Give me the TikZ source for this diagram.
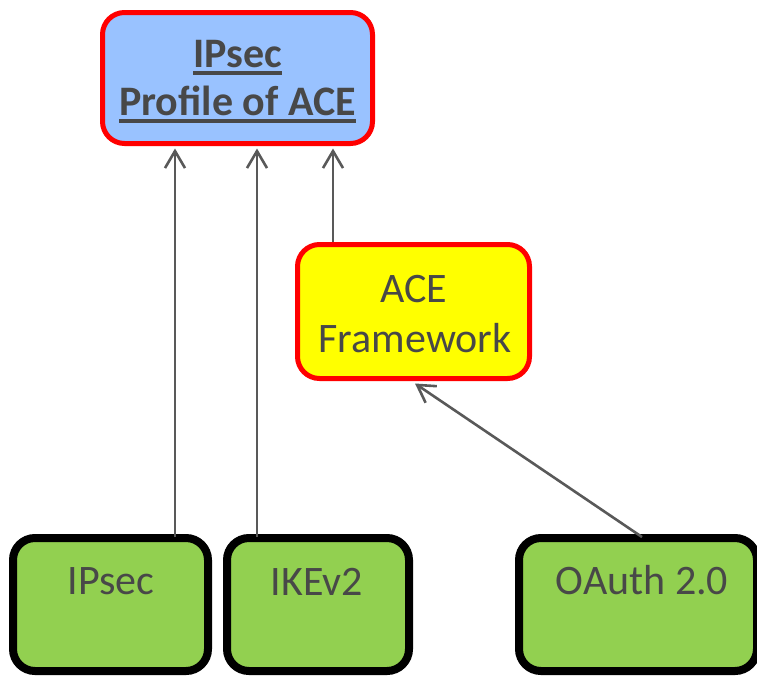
\documentclass[tikz,border=0pt]{standalone}
\usepackage{fontspec}
\setmainfont{Carlito}
\usetikzlibrary{arrows.meta}
\definecolor{txtgray}{RGB}{72,72,72}
\definecolor{arrgray}{RGB}{89,89,89}
\definecolor{boxblue}{RGB}{153,194,255}
\definecolor{boxyellow}{RGB}{255,255,0}
\definecolor{boxgreen}{RGB}{146,208,80}
\definecolor{boxred}{RGB}{255,0,0}
\newcommand{\ulx}[1]{\setbox0\hbox{#1}\rlap{\rule[-8pt]{\wd0}{4.5pt}}\box0}
\tikzset{
  redbox/.style={draw=boxred, line width=5pt, rounded corners=22pt, inner sep=0pt},
  greenbox/.style={draw=black, fill=boxgreen, line width=8pt, rounded corners=22pt, inner sep=0pt},
  txt/.style={text=txtgray, font=\fontsize{42}{48}\selectfont, inner sep=0pt, anchor=base},
  arr/.style={draw=arrgray, line width=2.6pt, -{Straight Barb[length=17pt,width=20pt,line width=2.6pt]}}
}
\begin{document}
\begin{tikzpicture}[x=1pt,y=-1pt]
\useasboundingbox (0,0) rectangle (757,675);
% boxes
\node[redbox, fill=boxblue, minimum width=270pt, minimum height=131pt] (top) at (237.5,78) {};
\node[redbox, fill=boxyellow, minimum width=232pt, minimum height=134pt] (ace) at (413.5,311.5) {};
\node[greenbox, minimum width=195pt, minimum height=133pt] (ipsec) at (110.5,604.5) {};
\node[greenbox, minimum width=182pt, minimum height=133pt] (ikev) at (318,604.5) {};
\node[greenbox, minimum width=238pt, minimum height=133pt] (oauth) at (638,604.5) {};
% texts
\node[txt, font=\fontsize{42}{48}\selectfont\bfseries] (t1) at (237.5,67) {\ulx{IPsec}};
\node[txt, font=\fontsize{42}{48}\selectfont\bfseries] (t2) at (237.5,115) {\ulx{Profile of ACE}};
\node[txt] (t3) at (413.5,302) {ACE};
\node[txt] (t4) at (415,352) {Framework};
\node[txt] (t5) at (111,594) {IPsec};
\node[txt] (t6) at (317,595) {IKEv2};
\node[txt] (t7) at (642,594) {OAuth 2.0};
% connectors
\draw[arr] ([xshift=64.5pt,yshift=-3pt]ipsec.north) -- ([xshift=-62.5pt,yshift=-2.5pt]top.south);
\draw[arr] ([xshift=-61pt,yshift=-3pt]ikev.north) -- ([xshift=19.5pt,yshift=-2.5pt]top.south);
\draw[arr] ([xshift=-80.5pt]ace.north) -- ([xshift=95.5pt,yshift=-2.5pt]top.south);
\draw[arr] ([xshift=4pt,yshift=-3pt]oauth.north) -- ([xshift=1.5pt,yshift=-2.5pt]ace.south);
\end{tikzpicture}
\end{document}
